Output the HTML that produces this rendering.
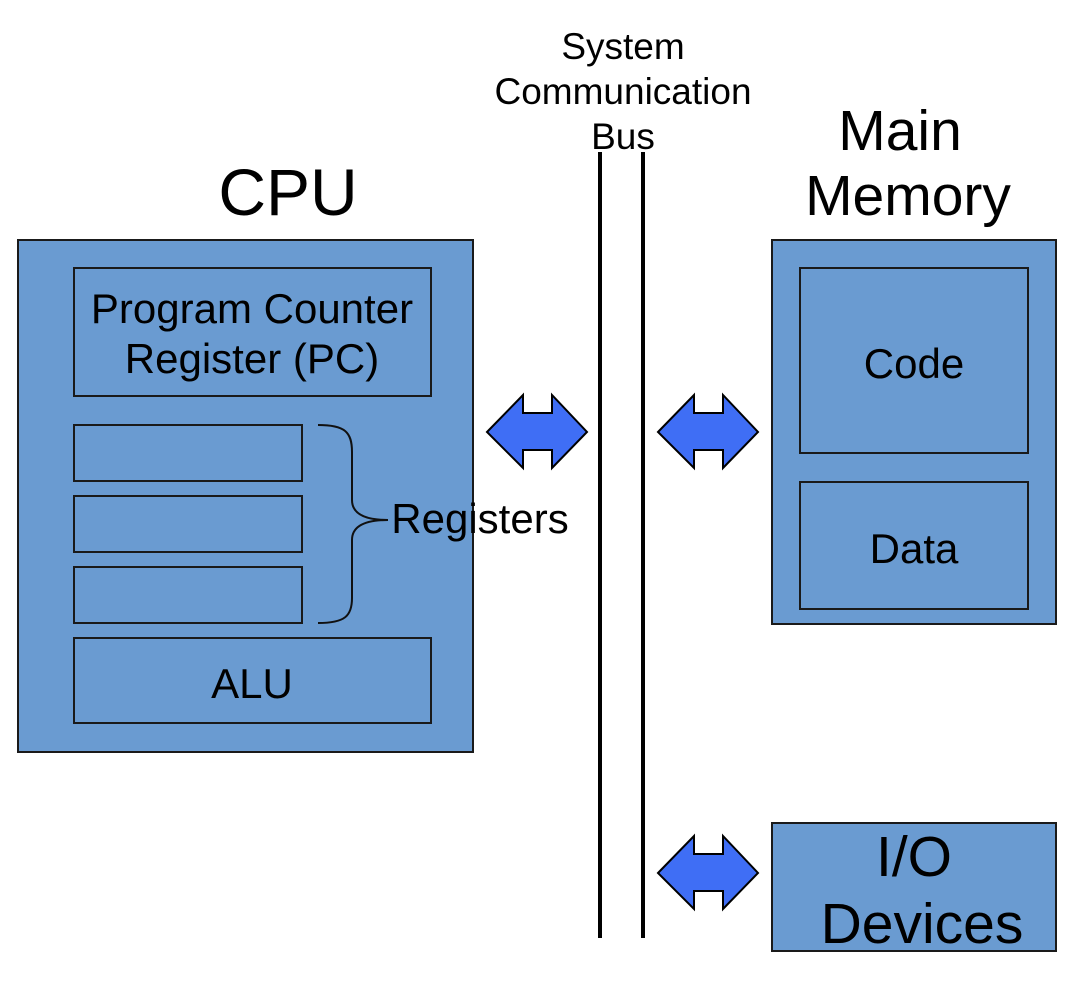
<!DOCTYPE html>
<html><head><meta charset="utf-8"><style>html,body{margin:0;padding:0;background:#fff}</style></head>
<body>
<svg width="1086" height="978" viewBox="0 0 1086 978" xmlns="http://www.w3.org/2000/svg" font-family="Liberation Sans, Arial, sans-serif">
<g fill="#6a9bd1" stroke="#1a1a1a" stroke-width="2">
<rect x="18" y="240" width="455" height="512"/>
<rect x="74" y="268" width="357" height="128"/>
<rect x="74" y="425" width="228" height="56"/>
<rect x="74" y="496" width="228" height="56"/>
<rect x="74" y="567" width="228" height="56"/>
<rect x="74" y="638" width="357" height="85"/>
<rect x="772" y="240" width="284" height="384"/>
<rect x="800" y="268" width="228" height="185"/>
<rect x="800" y="482" width="228" height="127"/>
<rect x="772" y="823" width="284" height="128"/>
</g>
<path d="M318,425 C345,425 352,432 352,452 L352,500 C352,512 362,520 388,520 C362,520 352,528 352,540 L352,598 C352,616 345,623 318,623" fill="none" stroke="#111" stroke-width="2"/>
<line x1="600" y1="152" x2="600" y2="938" stroke="#000" stroke-width="4"/>
<line x1="643" y1="152" x2="643" y2="938" stroke="#000" stroke-width="4"/>
<g fill="#3f6ef5" stroke="#000" stroke-width="2">
<path d="M487,432 L523,395 L523,413 L552,413 L552,395 L587,432 L552,468 L552,450 L523,450 L523,468 Z"/>
<path d="M658,432 L694,395 L694,413 L723,413 L723,395 L758,432 L723,468 L723,450 L694,450 L694,468 Z"/>
<path d="M658,873 L694,836 L694,854 L723,854 L723,836 L758,873 L723,909 L723,891 L694,891 L694,909 Z"/>
</g>
<g fill="#000" text-anchor="middle">
<text x="288" y="215" font-size="66">CPU</text>
<text x="900" y="150" font-size="57">Main</text>
<text x="908" y="215" font-size="57">Memory</text>
<text x="623" y="59" font-size="37">System</text>
<text x="623" y="104" font-size="37">Communication</text>
<text x="623" y="149" font-size="37">Bus</text>
<text x="252" y="323" font-size="42">Program Counter</text>
<text x="252" y="373" font-size="42">Register (PC)</text>
<text x="252" y="698" font-size="42">ALU</text>
<text x="914" y="378" font-size="42">Code</text>
<text x="914" y="563" font-size="42">Data</text>
<text x="914" y="876" font-size="57">I/O</text>
<text x="922" y="943" font-size="57">Devices</text>
<text x="480" y="533" font-size="42">Registers</text>
</g>
</svg>
</body></html>
